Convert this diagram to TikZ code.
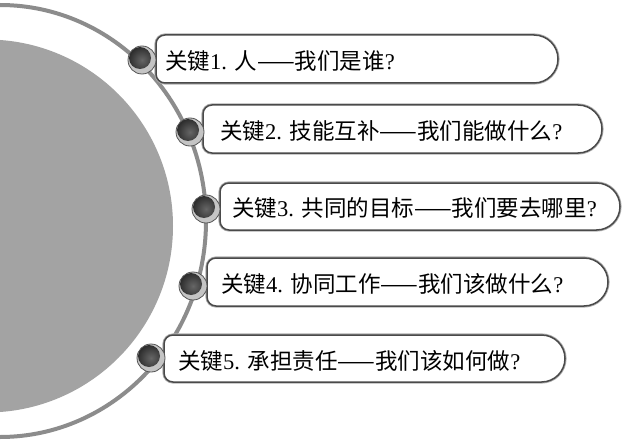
\documentclass[tikz,border=0pt]{standalone}
\usepackage{fontspec}
\setmainfont{Liberation Serif}
\newfontfamily\cjk{Noto Sans CJK SC}
\definecolor{diskgray}{HTML}{A3A3A3}
\definecolor{ringgray}{HTML}{8C8C8C}
\definecolor{boxline}{HTML}{4A4A4A}
\definecolor{boxshadow}{HTML}{B0B0B0}
\definecolor{dotring}{HTML}{C4C4C4}
\definecolor{dotedge}{HTML}{555555}
\definecolor{dotdark}{HTML}{2A2A2A}
\definecolor{dotlight}{HTML}{666666}
\begin{document}
\begin{tikzpicture}[x=1pt,y=1pt,
  keybox/.style={draw=boxline, line width=1.5pt, fill=white},
  keyshadow/.style={draw=boxshadow, line width=3.2pt},
  keytext/.style={anchor=west, inner sep=0pt, text=black, font=\fontsize{22.5}{22.5}\selectfont},
  keydot/.style={circle, minimum size=28pt, inner sep=0pt, fill=dotring, draw=dotedge, line width=0.8pt,
    path picture={\shade[inner color=dotlight, outer color=dotdark] ([xshift=-2pt,yshift=2pt]path picture bounding box.center) circle (11pt);}}
]
\useasboundingbox (0,0) rectangle (629,440);
\clip (0,0) rectangle (629,440);
\fill[white] (0,0) rectangle (629,440);
% big disk and ring
\fill[diskgray] (-13.5,214) circle (186.5);
\draw[ringgray, line width=4pt] (0,219) ellipse [x radius=206, y radius=216];
% boxes
\foreach \L/\R/\T/\B in {156/558/405/357, 203/602/335/287, 220/620/257/210, 207/608/182/134, 164/565/105/58}{
  \pgfmathsetmacro{\rr}{(\T-\B)/2}
  \pgfmathsetmacro{\ax}{\R-\rr}
  \draw[keyshadow] ({\L+9},\T) -- (\ax,\T) arc[start angle=90, end angle=-90, radius=\rr] -- ({\L+9},\B) arc[start angle=270, end angle=180, radius=9] -- (\L,{\T-9}) arc[start angle=180, end angle=90, radius=9] -- cycle;
  \draw[keybox] ({\L+9},\T) -- (\ax,\T) arc[start angle=90, end angle=-90, radius=\rr] -- ({\L+9},\B) arc[start angle=270, end angle=180, radius=9] -- (\L,{\T-9}) arc[start angle=180, end angle=90, radius=9] -- cycle;
}
% dots
\node[keydot] (d1) at (142,380) {};
\node[keydot] (d2) at (190,308) {};
\node[keydot] (d3) at (206,231) {};
\node[keydot] (d4) at (193,154) {};
\node[keydot] (d5) at (151,82) {};
% texts
\node[keytext] (t1) at (165,379) {{\cjk 关键}1. {\cjk 人——我们是谁}?};
\node[keytext] (t2) at (220,309) {{\cjk 关键}2. {\cjk 技能互补——我们能做什么}?};
\node[keytext] (t3) at (232,232) {{\cjk 关键}3. {\cjk 共同的目标——我们要去哪里}?};
\node[keytext] (t4) at (221,156) {{\cjk 关键}4. {\cjk 协同工作——我们该做什么}?};
\node[keytext] (t5) at (178,79) {{\cjk 关键}5. {\cjk 承担责任——我们该如何做}?};
\end{tikzpicture}
\end{document}
